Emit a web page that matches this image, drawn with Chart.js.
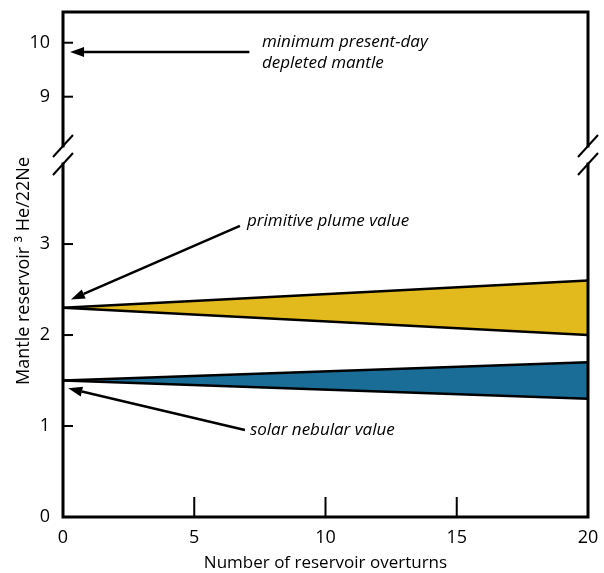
<!DOCTYPE html>
<html>
<head>
<meta charset="utf-8">
<script src="https://cdn.jsdelivr.net/npm/chart.js@4/dist/chart.umd.min.js"></script>
<style>
  html, body { margin: 0; padding: 0; background: #fff; }
  #wrap { width: 604px; height: 573px; }
</style>
</head>
<body>
<div id="wrap"><canvas id="c" width="604" height="573"></canvas></div>
<script>
// Number of reservoir overturns at the ends of each band
const overturns = [0, 20];
// 3He/22Ne envelope starting from the primitive plume value
const plumeUpper = [2.3, 2.6];
const plumeLower = [2.3, 2.0];
// 3He/22Ne envelope starting from the solar nebular value
const solarUpper = [1.5, 1.7];
const solarLower = [1.5, 1.3];

// Tick labels
const xTicks = [0, 5, 10, 15, 20];
const lowerTicks = [0, 1, 2, 3];
const upperTicks = [9, 10];

// Axis ranges (the value axis is broken between the two panels)
const lowerRange = [0, 3.88];
const upperRange = [8.087, 10.569];

// Labelled arrows, in data coordinates of the named value axis
const arrows = [
  { axis: 'yTop', from: [7.1, 9.83], to: [0.27, 9.83] },
  { axis: 'y', from: [6.74, 3.2], to: [0.3, 2.39] },
  { axis: 'y', from: [6.93, 0.956], to: [0.2, 1.414] }
];
const notes = [
  { axis: 'yTop', at: [7.58, 10.01], text: 'minimum present-day' },
  { axis: 'yTop', at: [7.58, 9.62], text: 'depleted mantle' },
  { axis: 'y', at: [7.01, 3.25], text: 'primitive plume value' },
  { axis: 'y', at: [7.12, 0.956], text: 'solar nebular value' }
];

const FONT = "'Open Sans', 'DejaVu Sans', sans-serif";
const YELLOW = '#e3ba1e';
const BLUE = '#1a6d96';

const toPoints = ys => overturns.map((x, i) => ({ x: x, y: ys[i] }));

function band(upper, lower, color) {
  return [
    { data: toPoints(upper), borderColor: '#000', borderWidth: 2.5, pointRadius: 0, fill: false, yAxisID: 'y', tension: 0 },
    { data: toPoints(lower), borderColor: '#000', borderWidth: 2.5, pointRadius: 0, fill: '-1', backgroundColor: color, yAxisID: 'y', tension: 0 }
  ];
}

const setTicks = values => scale => { scale.ticks = values.map(v => ({ value: v })); };

// fixed axis box sizes, without the extra edge padding for end labels
const fixWidth = w => s => { s.width = w; s.paddingTop = 0; s.paddingBottom = 0; s.paddingLeft = 0; s.paddingRight = 0; };
const fixHeight = h => s => { s.height = h; s.paddingTop = 0; s.paddingBottom = 0; s.paddingLeft = 0; s.paddingRight = 0; };

const hiddenGrid = { display: false, drawTicks: false };
const noBorder = { display: false };

// Frame, broken-axis marks, inward ticks, arrows and notes
const decorations = {
  id: 'decorations',
  afterDatasetsDraw(chart) {
    const ctx = chart.ctx;
    const a = chart.chartArea;
    const sx = chart.scales.x, sy = chart.scales.y, st = chart.scales.yTop, sg = chart.scales.yGap;
    const breakTop = sg.top, breakBottom = sg.bottom;

    ctx.save();
    ctx.strokeStyle = '#000';
    ctx.fillStyle = '#000';

    // frame
    ctx.lineWidth = 3;
    ctx.lineCap = 'square';
    ctx.beginPath();
    ctx.moveTo(a.left, breakTop); ctx.lineTo(a.left, a.top); ctx.lineTo(a.right, a.top); ctx.lineTo(a.right, breakTop);
    ctx.moveTo(a.left, breakBottom); ctx.lineTo(a.left, a.bottom); ctx.lineTo(a.right, a.bottom); ctx.lineTo(a.right, breakBottom);
    ctx.stroke();

    // break marks
    ctx.lineWidth = 2;
    ctx.lineCap = 'butt';
    [a.left, a.right].forEach(x => {
      [breakTop, breakBottom].forEach(y => {
        ctx.beginPath();
        ctx.moveTo(x - 10, y + 11);
        ctx.lineTo(x + 10, y - 11);
        ctx.stroke();
      });
    });

    // inward ticks on the value axis
    ctx.lineWidth = 2;
    [sy, st].forEach(s => {
      s.ticks.forEach(t => {
        const y = s.getPixelForValue(t.value);
        if (Math.abs(y - a.bottom) < 1) return;
        ctx.beginPath();
        ctx.moveTo(a.left, y);
        ctx.lineTo(a.left + 10, y);
        ctx.stroke();
      });
    });
    // inward ticks on the overturn axis
    sx.ticks.forEach(t => {
      const x = sx.getPixelForValue(t.value);
      if (Math.abs(x - a.left) < 1 || Math.abs(x - a.right) < 1) return;
      ctx.beginPath();
      ctx.moveTo(x, a.bottom);
      ctx.lineTo(x, a.bottom - 20);
      ctx.stroke();
    });

    // arrows
    arrows.forEach(ar => {
      const s = chart.scales[ar.axis];
      const x1 = sx.getPixelForValue(ar.from[0]), y1 = s.getPixelForValue(ar.from[1]);
      const x2 = sx.getPixelForValue(ar.to[0]), y2 = s.getPixelForValue(ar.to[1]);
      const ang = Math.atan2(y2 - y1, x2 - x1);
      const headLen = 14, headHalf = 5;
      const bx = x2 - headLen * Math.cos(ang), by = y2 - headLen * Math.sin(ang);
      ctx.lineWidth = 2.5;
      ctx.beginPath();
      ctx.moveTo(x1, y1);
      ctx.lineTo(bx, by);
      ctx.stroke();
      ctx.beginPath();
      ctx.moveTo(x2, y2);
      ctx.lineTo(bx + headHalf * Math.sin(ang), by - headHalf * Math.cos(ang));
      ctx.lineTo(bx - headHalf * Math.sin(ang), by + headHalf * Math.cos(ang));
      ctx.closePath();
      ctx.fill();
    });

    // notes
    ctx.font = 'italic 17px ' + FONT;
    ctx.textAlign = 'left';
    ctx.textBaseline = 'middle';
    notes.forEach(n => {
      const s = chart.scales[n.axis];
      ctx.fillText(n.text, sx.getPixelForValue(n.at[0]), s.getPixelForValue(n.at[1]));
    });

    // value axis title
    ctx.translate(24, 271);
    ctx.rotate(-Math.PI / 2);
    ctx.font = '18px ' + FONT;
    ctx.textAlign = 'center';
    ctx.fillText('Mantle reservoir \u00B3 He/22Ne', 0, 0);
    ctx.restore();
  }
};

const tickFont = { family: FONT, size: 18 };

new Chart(document.getElementById('c'), {
  type: 'line',
  data: {
    datasets: [].concat(band(plumeUpper, plumeLower, YELLOW), band(solarUpper, solarLower, BLUE))
  },
  options: {
    responsive: false,
    devicePixelRatio: 1,
    animation: false,
    layout: { padding: { top: 12, right: 16, left: 0, bottom: 0 } },
    plugins: { legend: { display: false }, tooltip: { enabled: false } },
    scales: {
      x: {
        type: 'linear',
        min: 0, max: 20,
        afterBuildTicks: setTicks(xTicks),
        afterFit: fixHeight(56),
        grid: hiddenGrid,
        border: noBorder,
        ticks: { color: '#000', font: tickFont, padding: 10, maxRotation: 0 },
        title: { display: true, text: 'Number of reservoir overturns', color: '#000', font: { family: FONT, size: 17 }, padding: { top: 0, bottom: 0 } }
      },
      y: {
        type: 'linear',
        position: 'left',
        stack: 'value',
        stackWeight: 353,
        min: lowerRange[0], max: lowerRange[1],
        afterBuildTicks: setTicks(lowerTicks),
        afterFit: fixWidth(63),
        grid: hiddenGrid,
        border: noBorder,
        ticks: { color: '#000', font: tickFont, padding: 13 }
      },
      yGap: {
        type: 'linear',
        position: 'left',
        stack: 'value',
        stackWeight: 18,
        min: 0, max: 1,
        afterBuildTicks: setTicks([]),
        afterFit: fixWidth(63),
        grid: hiddenGrid,
        border: noBorder,
        ticks: { display: false }
      },
      yTop: {
        type: 'linear',
        position: 'left',
        stack: 'value',
        stackWeight: 134,
        min: upperRange[0], max: upperRange[1],
        afterBuildTicks: setTicks(upperTicks),
        afterFit: fixWidth(63),
        grid: hiddenGrid,
        border: noBorder,
        ticks: { color: '#000', font: tickFont, padding: 13 }
      }
    }
  },
  plugins: [decorations]
});
</script>
</body>
</html>
